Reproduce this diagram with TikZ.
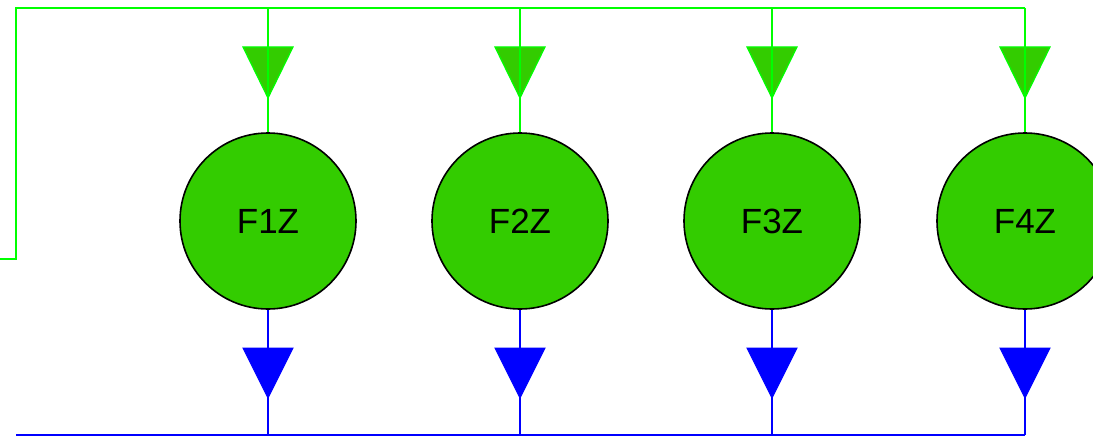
\documentclass[tikz,border=0pt]{standalone}
\usepackage{fontspec}
\setmainfont{Liberation Sans}
\definecolor{lgreen}{HTML}{00FF00}
\definecolor{fgreen}{HTML}{33CC00}
\definecolor{lblue}{HTML}{0000FF}
\begin{document}
\begin{tikzpicture}[x=1pt,y=-1pt,
  fz/.style={circle,draw=black,line width=1.6pt,fill=fgreen,minimum size=176pt,inner sep=0pt,font=\fontsize{35}{35}\selectfont},
  gline/.style={draw=lgreen,line width=2.2pt},
  bline/.style={draw=lblue,line width=2.2pt},
  gtri/.style={fill=fgreen,draw=lgreen,line width=1.2pt,line join=miter},
  btri/.style={fill=lblue,draw=lblue,line width=1pt}]
\useasboundingbox (0,0) rectangle (1093,436);
\clip (0,0) rectangle (1093,436);
\coordinate (lin) at (0,259);
\coordinate (lc) at (16,259);
\coordinate (tl) at (16,8);
\coordinate (bl) at (16,435);
\foreach \i/\x in {1/268,2/520,3/772,4/1025}{
  \node[fz] (f\i) at (\x,221) {F\i Z};
  \coordinate (t\i) at (\x,8);
  \coordinate (b\i) at (\x,435);
  \path[gtri] (\x-25,47) -- (\x+25,47) -- (\x,98) -- cycle;
  \path[btri] (\x-25,348) -- (\x+25,348) -- (\x,398) -- cycle;
  \draw[gline] (t\i) -- (f\i.north);
  \draw[bline] (f\i.south) -- (b\i);
}
\draw[gline] (lin) -- (lc) -- (tl) -- (t4);
\draw[bline] (bl) -- (b4);
\end{tikzpicture}
\end{document}
